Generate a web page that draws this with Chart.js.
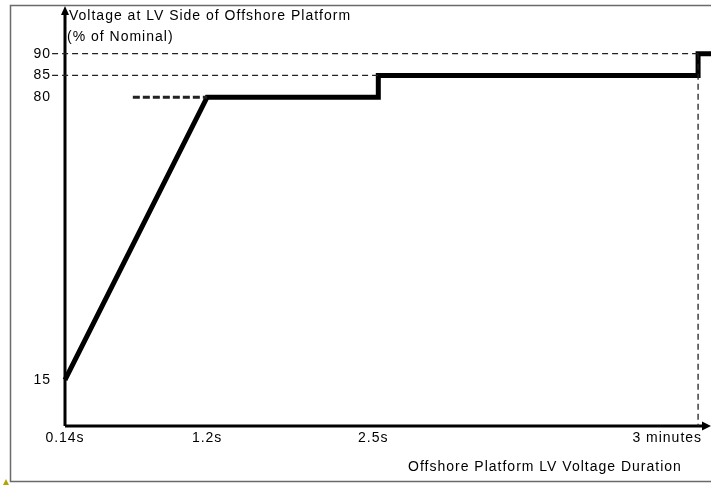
<!DOCTYPE html>
<html>
<head>
<meta charset="utf-8">
<script src="https://cdn.jsdelivr.net/npm/chart.js@4/dist/chart.umd.min.js"></script>
<style>
    html, body { margin: 0; padding: 0; background: #fff; }
    #wrap { width: 711px; height: 486px; }
</style>
</head>
<body>
<div id="wrap"><canvas id="ridethrough" width="711" height="486"></canvas></div>
<script>
// Duration ticks (schematic positions along the time axis, 0-100)
var durationLabels = ['0.14s', '1.2s', '2.5s', '3 minutes'];
var durationPos = [0, 22, 48.5, 98];

// Voltage levels (% of nominal) held from each duration onwards
var voltageLevels = [15, 80, 85, 90];
var voltageTicks = [90, 85, 80, 15];

// Dashed 80% lead-in before the ramp reaches 80
var leadInStart = 10.5;
var axisEnd = 100;
var yMin = 4.4, yMax = 100.5;

var FONT = '14px "Liberation Sans", Arial, sans-serif';

function buildEnvelope() {
    // ramp 15 -> 80, then steps at each later duration
    var pts = [{x: durationPos[0], y: voltageLevels[0]}, {x: durationPos[1], y: voltageLevels[1]}];
    for (var i = 2; i < durationPos.length; i++) {
        pts.push({x: durationPos[i], y: voltageLevels[i - 1]});
        pts.push({x: durationPos[i], y: voltageLevels[i]});
    }
    pts.push({x: axisEnd, y: voltageLevels[voltageLevels.length - 1]});
    return pts;
}

function dashed(points, width, dash) {
    return {
        data: points,
        borderColor: '#222',
        borderWidth: width,
        borderDash: dash,
        pointRadius: 0,
        fill: false,
        tension: 0,
        clip: false
    };
}

var envelope = {
    data: buildEnvelope(),
    borderColor: '#000',
    borderWidth: 5,
    borderJoinStyle: 'miter',
    borderCapStyle: 'butt',
    pointRadius: 0,
    fill: false,
    tension: 0,
    clip: false
};

var guides = [
    // 90% and 85% reference lines, starting just left of the axis
    dashed([{x: -2, y: voltageLevels[3]}, {x: durationPos[3], y: voltageLevels[3]}], 1.3, [6, 4]),
    dashed([{x: -2, y: voltageLevels[2]}, {x: durationPos[2], y: voltageLevels[2]}], 1.3, [6, 4]),
    // 3 minute drop line
    dashed([{x: durationPos[3], y: voltageLevels[3]}, {x: durationPos[3], y: yMin}], 1.3, [6, 4]),
    // heavier dashes leading into the 80% plateau
    dashed([{x: leadInStart, y: voltageLevels[1]}, {x: durationPos[1], y: voltageLevels[1]}], 3, [7, 3])
];

var axesPlugin = {
    id: 'axesPlugin',
    beforeDatasetsDraw: function (chart) {
        var ctx = chart.ctx;
        var xs = chart.scales.x, ys = chart.scales.y;
        var x0 = xs.getPixelForValue(0), y0 = ys.getPixelForValue(yMin);
        ctx.save();
        ctx.strokeStyle = '#000';
        ctx.fillStyle = '#000';
        ctx.lineWidth = 3;
        ctx.beginPath();
        ctx.moveTo(x0, y0);
        ctx.lineTo(x0, 12);
        ctx.moveTo(x0, y0);
        ctx.lineTo(chart.width - 6, y0);
        ctx.stroke();
        // arrow heads
        ctx.beginPath();
        ctx.moveTo(x0, 6);
        ctx.lineTo(x0 - 4, 15);
        ctx.lineTo(x0 + 4, 15);
        ctx.closePath();
        ctx.fill();
        ctx.beginPath();
        ctx.moveTo(chart.width, y0);
        ctx.lineTo(chart.width - 9, y0 - 4.5);
        ctx.lineTo(chart.width - 9, y0 + 4.5);
        ctx.closePath();
        ctx.fill();
        ctx.restore();
    },
    afterDraw: function (chart) {
        var ctx = chart.ctx;
        var xs = chart.scales.x, ys = chart.scales.y;
        var yAxisBottom = ys.getPixelForValue(yMin);
        ctx.save();
        ctx.font = FONT;
        ctx.fillStyle = '#000';
        ctx.letterSpacing = '1px';
        ctx.textBaseline = 'middle';

        // y tick labels
        ctx.textAlign = 'right';
        voltageTicks.forEach(function (v) {
            ctx.fillText(String(v), 51, ys.getPixelForValue(v));
        });

        // x tick labels
        durationLabels.forEach(function (lbl, i) {
            var px = xs.getPixelForValue(durationPos[i]);
            if (i === durationLabels.length - 1) {
                ctx.textAlign = 'right';
                ctx.fillText(lbl, px + 4, yAxisBottom + 12);
            } else {
                ctx.textAlign = 'center';
                ctx.fillText(lbl, i === 2 ? px - 5 : px, yAxisBottom + 12);
            }
        });

        // axis titles
        ctx.textAlign = 'left';
        ctx.fillText('Voltage at LV Side of Offshore Platform', 69, 16);
        ctx.fillText('(% of Nominal)', 67, 37);
        ctx.fillText('Offshore Platform LV Voltage Duration', 408, 467);

        // outer frame
        ctx.strokeStyle = '#6a6a6a';
        ctx.lineWidth = 1.5;
        ctx.strokeRect(10.5, 5.5, 720, 476);

        // small corner marker
        ctx.fillStyle = '#b5a300';
        ctx.beginPath();
        ctx.moveTo(6, 479);
        ctx.lineTo(3, 485);
        ctx.lineTo(9, 485);
        ctx.closePath();
        ctx.fill();
        ctx.restore();
    }
};

new Chart(document.getElementById('ridethrough').getContext('2d'), {
    type: 'line',
    data: {datasets: guides.concat([envelope])},
    options: {
        responsive: false,
        animation: false,
        layout: {padding: {left: 65, top: 8, right: 0, bottom: 60}},
        plugins: {legend: {display: false}, tooltip: {enabled: false}},
        scales: {
            x: {type: 'linear', display: false, min: 0, max: axisEnd},
            y: {type: 'linear', display: false, min: yMin, max: yMax}
        }
    },
    plugins: [axesPlugin]
});
</script>
</body>
</html>
